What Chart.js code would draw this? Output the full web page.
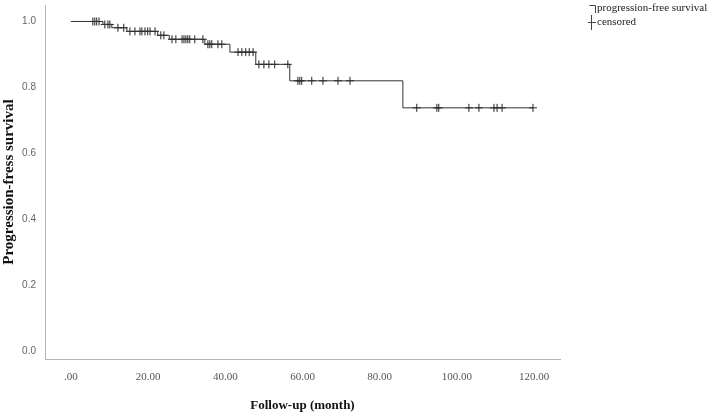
<!DOCTYPE html>
<html>
<head>
<meta charset="utf-8">
<script src="https://cdn.jsdelivr.net/npm/chart.js@4/dist/chart.umd.min.js"></script>
<style>
  html, body { margin: 0; padding: 0; background: #fff; }
  #wrap { width: 709px; height: 413px; position: relative; }
</style>
</head>
<body>
<div id="wrap"><canvas id="kmChart"></canvas></div>
<script>
// Kaplan-Meier steps (time in months, survival after the drop)
const eventTimes = [0, 8.3, 10.6, 14.5, 22.5, 25.5, 34.7, 41.2, 47.9, 56.7, 86.0];
const survivalLevels = [1.0, 0.991, 0.981, 0.970, 0.958, 0.946, 0.931, 0.907, 0.870, 0.820, 0.738];
const lastFollowUp = 119.7;

// censored observations (months)
const censorTimes = [
    5.7, 6.2, 6.7, 7.3,
    8.8, 9.6, 10.1,
    12.2, 13.7,
    15.3, 16.6, 17.9, 18.4, 19.2, 19.9, 20.5, 21.8,
    23.3, 24.1,
    26.2, 27.2, 28.8, 29.3, 29.8, 30.3, 30.8, 32.1, 34.2,
    35.5, 36.0, 36.5, 38.1, 39.1,
    43.3, 44.3, 45.3, 46.2, 47.2,
    48.7, 50.0, 51.3, 52.8, 56.2,
    58.8, 59.3, 59.8, 62.4, 65.3, 69.2, 72.3,
    89.6, 94.8, 95.3, 103.1, 105.7, 109.6, 110.4, 111.7, 119.7
];

const xTicks = [0, 20, 40, 60, 80, 100, 120];
const yTicks = [0, 0.2, 0.4, 0.6, 0.8, 1.0];

// survival value of the curve at time t
function survAt(t) {
    let s = survivalLevels[0];
    eventTimes.forEach((e, i) => { if (e <= t) s = survivalLevels[i]; });
    return s;
}

const stepPoints = eventTimes.map((t, i) => ({ x: t, y: survivalLevels[i] }));
stepPoints.push({ x: lastFollowUp, y: survivalLevels[survivalLevels.length - 1] });
const censorPoints = censorTimes.map(t => ({ x: t, y: survAt(t) }));

// SPSS style legend in the top right corner
const legendPlugin = {
    id: 'kmLegend',
    afterDraw(chart) {
        const ctx = chart.ctx;
        ctx.save();
        ctx.strokeStyle = '#444';
        ctx.lineWidth = 1;
        // step icon
        ctx.beginPath();
        ctx.moveTo(589.5, 5.5);
        ctx.lineTo(595.5, 5.5);
        ctx.lineTo(595.5, 13);
        ctx.stroke();
        // censor icon
        ctx.beginPath();
        ctx.moveTo(588, 22.5);
        ctx.lineTo(596, 22.5);
        ctx.moveTo(591.5, 15);
        ctx.lineTo(591.5, 30);
        ctx.stroke();
        ctx.fillStyle = '#222';
        ctx.font = '11px "Liberation Serif", serif';
        ctx.textBaseline = 'middle';
        ctx.fillText('progression-free survival', 597, 8);
        ctx.fillText('censored', 597, 22);
        ctx.restore();
    }
};

const ctx = document.getElementById('kmChart').getContext('2d');
new Chart(ctx, {
    type: 'scatter',
    data: {
        datasets: [
            {
                label: 'progression-free survival',
                type: 'line',
                data: stepPoints,
                stepped: 'before',
                borderColor: '#333',
                borderWidth: 1,
                pointRadius: 0,
                fill: false
            },
            {
                label: 'censored',
                data: censorPoints,
                pointStyle: 'cross',
                pointRadius: 4,
                borderColor: '#222',
                borderWidth: 1,
                backgroundColor: '#222'
            }
        ]
    },
    options: {
        responsive: true,
        maintainAspectRatio: false,
        animation: false,
        layout: { padding: { top: 2, right: 149, left: 0, bottom: 0 } },
        plugins: { legend: { display: false }, tooltip: { enabled: false } },
        scales: {
            x: {
                type: 'linear',
                min: -6.7,
                max: 126.7,
                afterBuildTicks: s => { s.ticks = xTicks.map(v => ({ value: v })); },
                afterFit: s => { s.height = 54; },
                grid: { display: false, drawTicks: false },
                border: { color: '#b5b5b5', width: 1 },
                ticks: {
                    padding: 12,
                    color: '#555',
                    font: { family: '"Liberation Serif", serif', size: 11 },
                    callback: v => v === 0 ? '.00' : v.toFixed(2)
                },
                title: {
                    display: true,
                    text: 'Follow-up (month)',
                    color: '#111',
                    font: { family: '"Liberation Serif", serif', size: 13, weight: 'bold' },
                    padding: { top: 10, bottom: 0 }
                }
            },
            y: {
                min: -0.024,
                max: 1.05,
                afterBuildTicks: s => { s.ticks = yTicks.map(v => ({ value: v })); },
                afterFit: s => { s.width = 45; s.paddingTop = 0; s.paddingBottom = 0; },
                grid: { display: false, drawTicks: false },
                border: { color: '#b5b5b5', width: 1 },
                ticks: {
                    padding: 9,
                    color: '#666',
                    font: { family: '"Liberation Sans", Arial, sans-serif', size: 10 },
                    callback: v => v.toFixed(1)
                },
                title: {
                    display: true,
                    text: 'Progression-fress survival',
                    color: '#111',
                    font: { family: '"Liberation Serif", serif', size: 15, weight: 'bold' },
                    padding: { top: 0, bottom: 0 }
                }
            }
        }
    },
    plugins: [legendPlugin]
});
</script>
</body>
</html>
